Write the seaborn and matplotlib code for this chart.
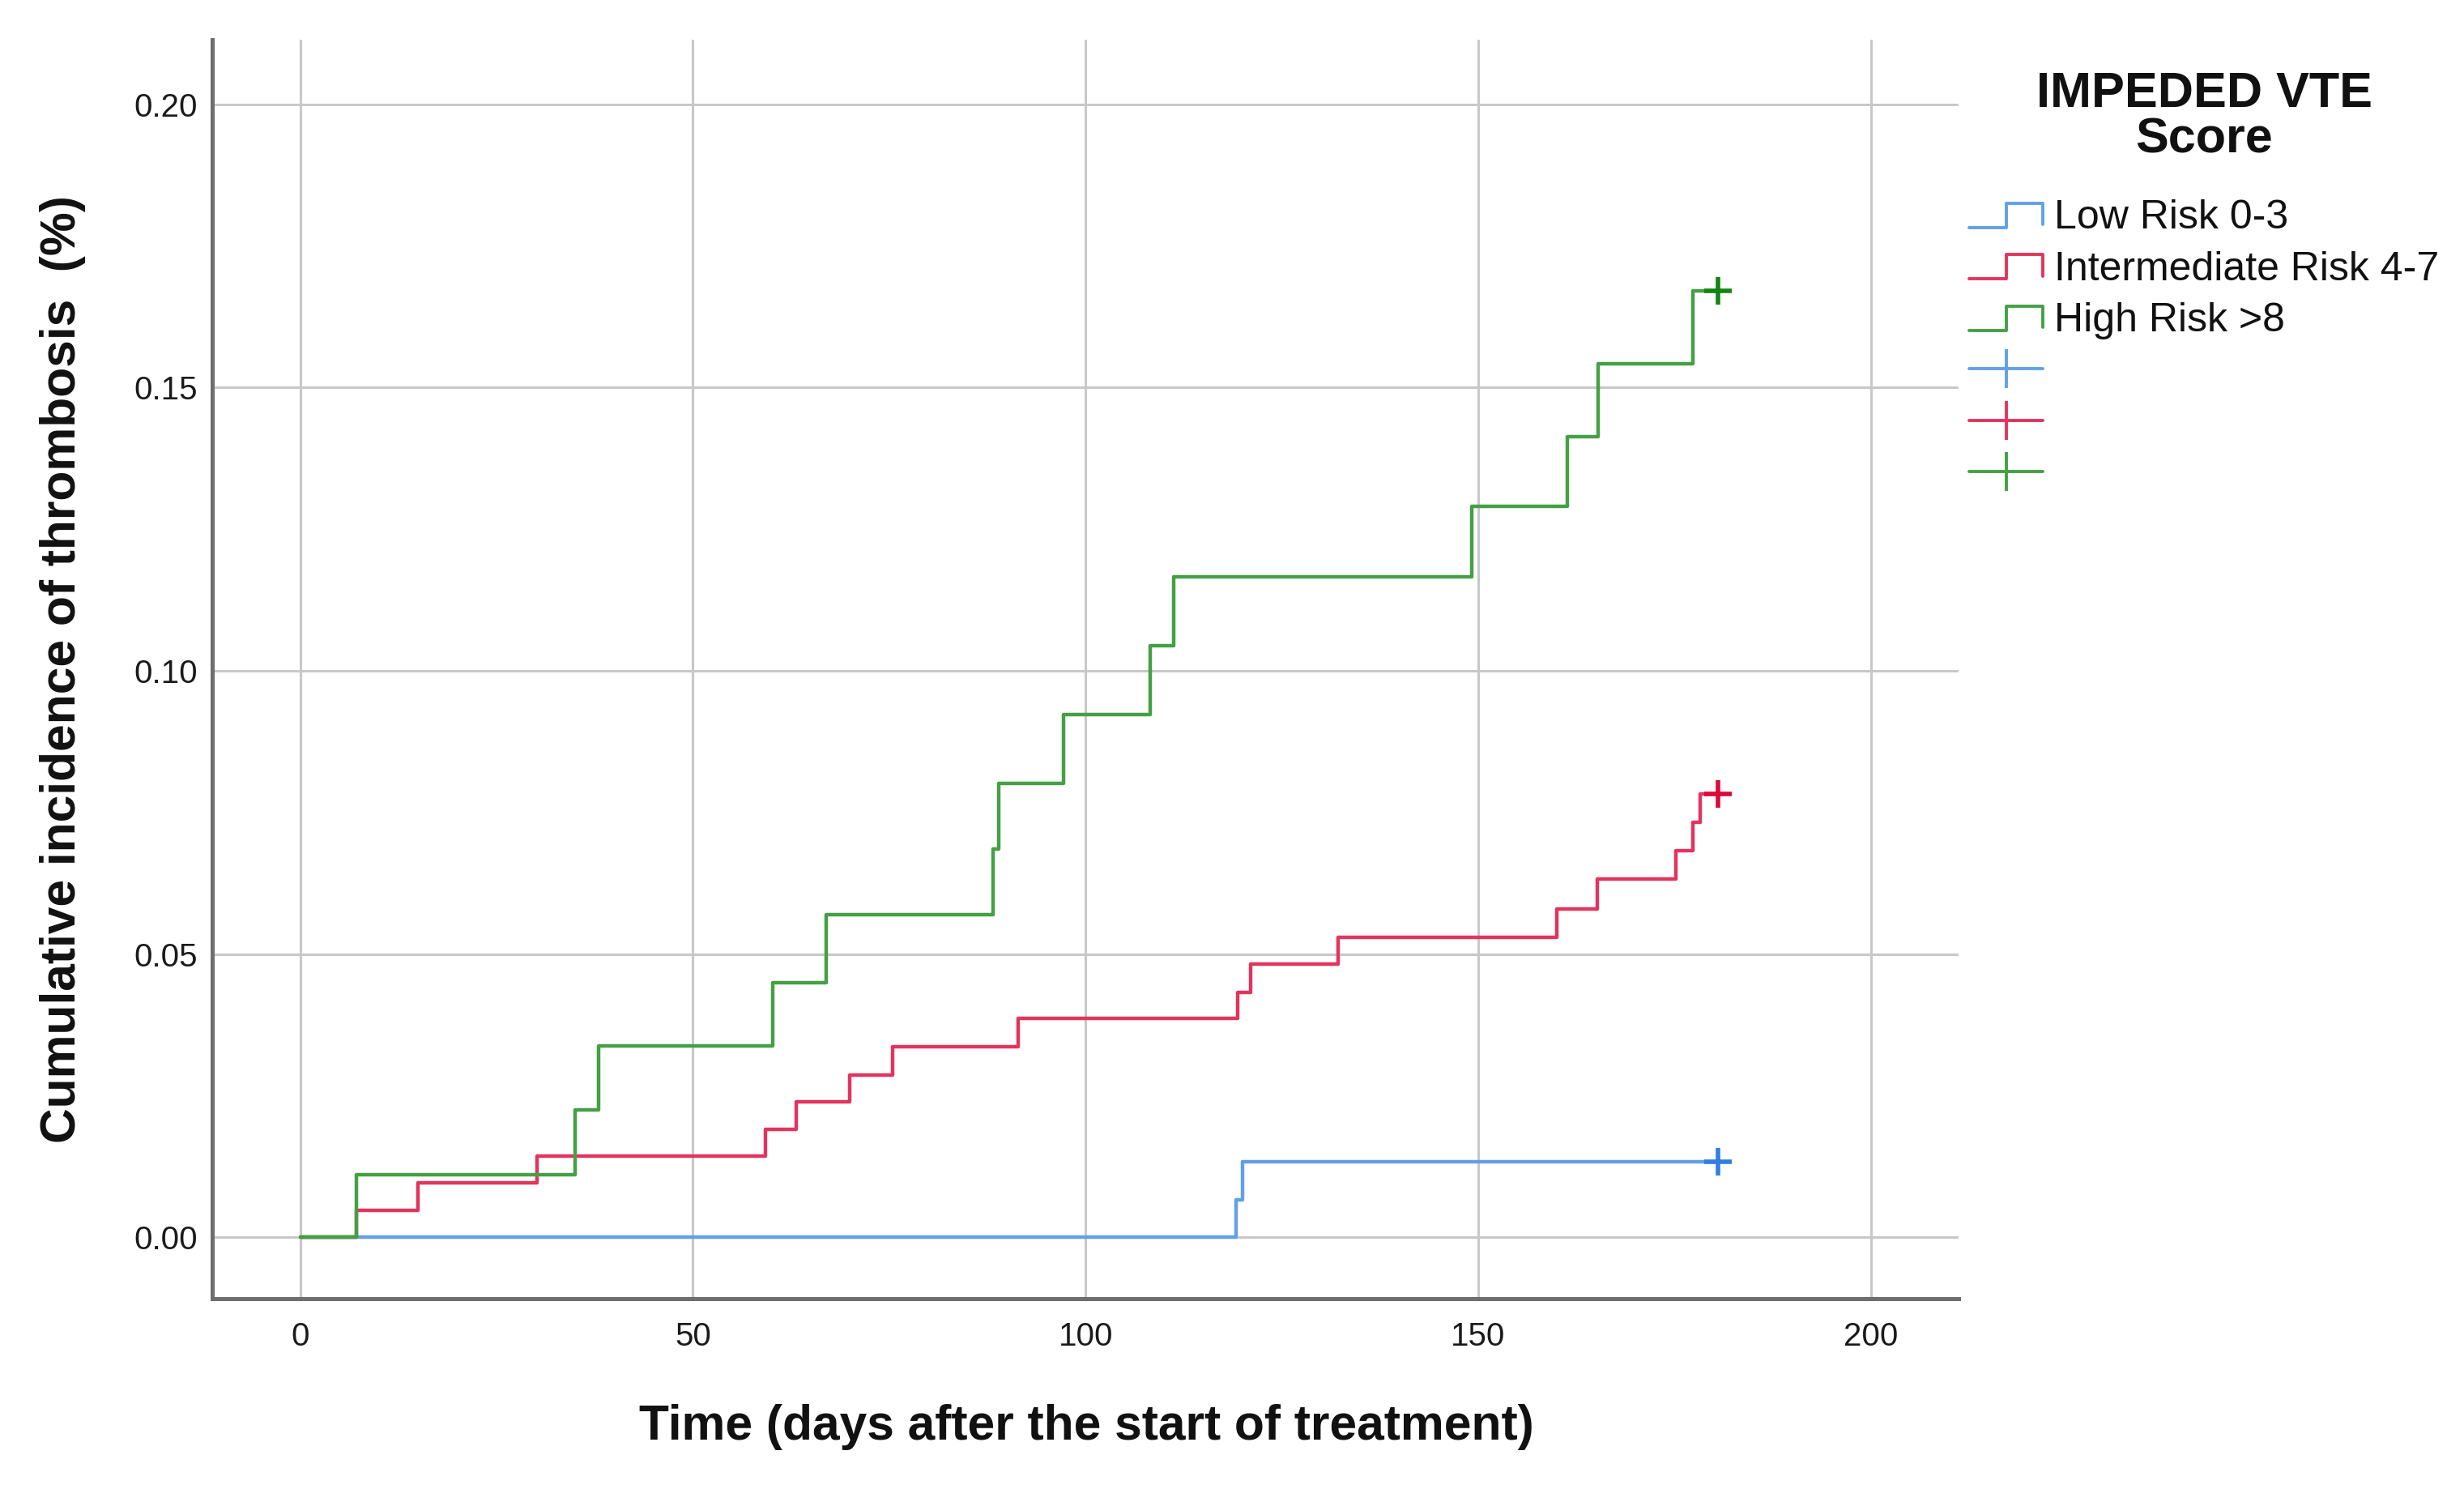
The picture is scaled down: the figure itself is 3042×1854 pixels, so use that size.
"""Cumulative incidence of thrombosis by IMPEDED VTE score group."""
import matplotlib
matplotlib.use("Agg")
import matplotlib.pyplot as plt
from matplotlib.legend_handler import HandlerBase
from matplotlib.lines import Line2D
from matplotlib.ticker import FormatStrFormatter
import pandas as pd
import seaborn as sns

# Data (step functions, steps-post).
groups = ["Low Risk 0-3", "Intermediate Risk 4-7", "High Risk >8"]

low_days = [0, 119.2, 120.0, 180.5]
low_inc = [0.0, 0.0067, 0.0133, 0.0133]

mid_days = [0, 7.2, 15.0, 30.2, 59.2, 63.2, 70.0, 75.4, 91.4, 119.4, 121.0,
            132.2, 160.0, 165.2, 175.2, 177.3, 178.3, 180.5]
mid_inc = [0.0, 0.0048, 0.0096, 0.0144, 0.0191, 0.0239, 0.0286, 0.0336, 0.0386,
           0.0433, 0.0483, 0.0530, 0.0580, 0.0632, 0.0682, 0.0732, 0.0783, 0.0783]

high_days = [0, 7.2, 35.0, 38.0, 60.2, 67.0, 88.2, 89.0, 97.2, 108.2, 111.2,
             149.2, 161.3, 165.3, 177.3, 180.5]
high_inc = [0.0, 0.0111, 0.0225, 0.0338, 0.0450, 0.0569, 0.0685, 0.0802, 0.0923,
            0.1045, 0.1166, 0.1290, 0.1414, 0.1542, 0.1671, 0.1671]

# censored observations (end of follow-up)
censor_days = [180.5, 180.5, 180.5]
censor_inc = [0.0133, 0.0783, 0.1671]

x_ticks = [0, 50, 100, 150, 200]
y_ticks = [0.00, 0.05, 0.10, 0.15, 0.20]

line_palette = {
    "Low Risk 0-3": "#62a0e8",
    "Intermediate Risk 4-7": "#e2345e",
    "High Risk >8": "#45a045",
}
censor_palette = {
    "Low Risk 0-3": "#2f7ee0",
    "Intermediate Risk 4-7": "#dc0838",
    "High Risk >8": "#128412",
}

df = pd.concat([
    pd.DataFrame({"Days": d, "Incidence": v, "Group": g})
    for g, d, v in zip(groups, [low_days, mid_days, high_days], [low_inc, mid_inc, high_inc])
])
df_censor = pd.DataFrame({"Days": censor_days, "Incidence": censor_inc, "Group": groups})

sns.set_theme(style="whitegrid")
plt.rcParams["font.family"] = ["Liberation Sans", "DejaVu Sans"]
plt.rcParams["text.color"] = "#111111"
plt.rcParams["axes.labelcolor"] = "#111111"
plt.rcParams["axes.edgecolor"] = "#6e6e6e"
plt.rcParams["grid.color"] = "#c8c8c8"
plt.rcParams["grid.linewidth"] = 1.1

fig = plt.figure(figsize=(15.21, 9.27), dpi=200)
ax = fig.add_axes([0.0861, 0.1354, 0.7089, 0.8382])

sns.lineplot(data=df, x="Days", y="Incidence", hue="Group", hue_order=groups,
             palette=line_palette, drawstyle="steps-post", estimator=None,
             lw=1.6, legend=False, ax=ax)
sns.scatterplot(data=df_censor, x="Days", y="Incidence", hue="Group",
                hue_order=groups, palette=censor_palette, marker="+",
                s=150, linewidth=2.0, legend=False, ax=ax, zorder=5)

ax.set_xlim(-11.2, 211.2)
ax.set_ylim(-0.0108, 0.2114)
ax.set_xticks(x_ticks)
ax.set_yticks(y_ticks)
ax.yaxis.set_major_formatter(FormatStrFormatter("%.2f"))
ax.tick_params(axis="both", length=0, labelsize=14.5, colors="#1a1a1a")
ax.tick_params(axis="x", pad=10)
ax.tick_params(axis="y", pad=6.5)

for side in ["top", "right"]:
    ax.spines[side].set_visible(False)
for side in ["left", "bottom"]:
    ax.spines[side].set_linewidth(1.8)
ax.grid(True, color="#c8c8c8", lw=1.1)

ax.set_xlabel("Time (days after the start of treatment)", fontsize=21.8,
              fontweight="bold")
ax.set_ylabel("Cumulative incidence of thrombosis  (%)", fontsize=21.8,
              fontweight="bold")
ax.xaxis.set_label_coords(0.5005, -0.1023)
ax.yaxis.set_label_coords(-0.0853, 0.5)
ax.xaxis.label.set_va("center")
ax.yaxis.label.set_va("center")


class StepHandler(HandlerBase):
    """Small step-shaped icon, like the survival-curve legend in SPSS."""
    def create_artists(self, legend, orig_handle, xdescent, ydescent,
                       width, height, fontsize, trans):
        x0 = -xdescent
        x1 = x0 + width
        xm = x0 + width * 0.5
        ylo = -ydescent + height * 0.05
        yhi = -ydescent + height * 0.9
        line = Line2D([x0, xm, xm, x1, x1], [ylo, ylo, yhi, yhi, ylo + height * 0.1],
                      color=orig_handle.get_color(), lw=orig_handle.get_linewidth())
        line.set_transform(trans)
        return [line]


step_handles = [Line2D([], [], color=line_palette[g], lw=1.4) for g in groups]
censor_handles = [Line2D([], [], color=line_palette[g], lw=1.4, marker="|",
                         markersize=17, markeredgewidth=1.4) for g in groups]
handler_map = {h: StepHandler() for h in step_handles}

legend = fig.legend(handles=step_handles + censor_handles,
                    labels=groups + ["", "", ""],
                    handler_map=handler_map,
                    title="IMPEDED VTE\nScore",
                    title_fontproperties={"weight": "bold", "size": 22},
                    fontsize=18, loc="upper left",
                    bbox_to_anchor=(0.7992, 0.9526), borderaxespad=0, borderpad=0,
                    frameon=False, labelspacing=0.35, handlelength=1.82,
                    handletextpad=0.28)
legend.get_title().set_linespacing(1.0)
legend.get_title().set_multialignment("center")
legend._legend_box.sep = 16  # more room under the title

fig.savefig("out.png", dpi=200)
